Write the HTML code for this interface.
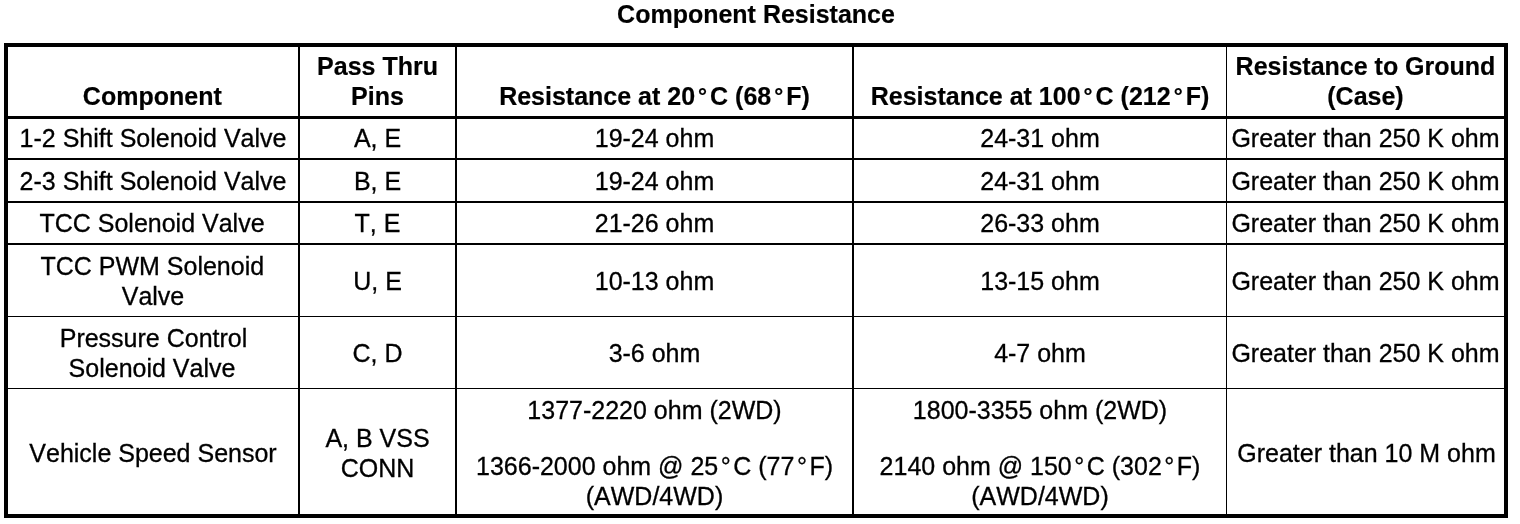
<!DOCTYPE html>
<html><head><meta charset="utf-8"><title>Component Resistance</title>
<style>
html,body{margin:0;padding:0;background:#fff;}
body{width:1520px;height:524px;position:relative;overflow:hidden;font-family:"Liberation Sans",sans-serif;color:#000;}
.l{position:absolute;background:#000;}
.t{font-kerning:none;-webkit-text-stroke:0.3px #000;position:absolute;text-align:center;white-space:nowrap;font-size:25px;line-height:30px;height:30px;}
.b{font-weight:bold;font-size:25px;-webkit-text-stroke:0.2px #000;}
.d{margin:0 2.5px 0 2.5px;}
.b .d{font-size:0.9em;margin:0 3px 0 3px;position:relative;top:-1.2px;}
</style></head><body>
<div class="t b" style="left:456px;width:600px;top:-1px;transform:scaleY(1.05);transform-origin:50% 24px">Component Resistance</div>
<div class="l" style="left:4px;top:43px;width:1504px;height:4px"></div>
<div class="l" style="left:4px;top:116px;width:1504px;height:3px"></div>
<div class="l" style="left:4px;top:158px;width:1504px;height:2px"></div>
<div class="l" style="left:4px;top:201px;width:1504px;height:2px"></div>
<div class="l" style="left:4px;top:243px;width:1504px;height:2px"></div>
<div class="l" style="left:4px;top:316px;width:1504px;height:1px"></div>
<div class="l" style="left:4px;top:388px;width:1504px;height:1px"></div>
<div class="l" style="left:4px;top:514px;width:1504px;height:4px"></div>
<div class="l" style="left:4px;top:43px;width:4px;height:475px"></div>
<div class="l" style="left:298px;top:43px;width:2px;height:475px"></div>
<div class="l" style="left:455px;top:43px;width:2px;height:475px"></div>
<div class="l" style="left:852px;top:43px;width:2px;height:475px"></div>
<div class="l" style="left:1226px;top:43px;width:1px;height:475px"></div>
<div class="l" style="left:1504px;top:43px;width:4px;height:475px"></div>
<div class="t b" style="left:7.3px;width:290px;top:81px">Component</div>
<div class="t b" style="left:300px;width:155px;top:51px">Pass Thru</div>
<div class="t b" style="left:300px;width:155px;top:81px">Pins</div>
<div class="t b" style="left:457px;width:395px;top:81px">Resistance at 20<span class="d">°</span>C (68<span class="d">°</span>F)</div>
<div class="t b" style="left:854px;width:372px;top:81px">Resistance at 100<span class="d">°</span>C (212<span class="d">°</span>F)</div>
<div class="t b" style="left:1227px;width:277px;top:51px">Resistance to Ground</div>
<div class="t b" style="left:1227px;width:277px;top:81px">(Case)</div>
<div class="t" style="left:8px;width:290px;top:123px">1-2 Shift Solenoid Valve</div>
<div class="t" style="left:300px;width:155px;top:123px">A, E</div>
<div class="t" style="left:457px;width:395px;top:123px">19-24 ohm</div>
<div class="t" style="left:854px;width:372px;top:123px">24-31 ohm</div>
<div class="t" style="left:1227px;width:277px;top:123px">Greater than 250 K ohm</div>
<div class="t" style="left:8px;width:290px;top:166px">2-3 Shift Solenoid Valve</div>
<div class="t" style="left:300px;width:155px;top:166px">B, E</div>
<div class="t" style="left:457px;width:395px;top:166px">19-24 ohm</div>
<div class="t" style="left:854px;width:372px;top:166px">24-31 ohm</div>
<div class="t" style="left:1227px;width:277px;top:166px">Greater than 250 K ohm</div>
<div class="t" style="left:7px;width:290px;top:208px">TCC Solenoid Valve</div>
<div class="t" style="left:300px;width:155px;top:208px">T, E</div>
<div class="t" style="left:457px;width:395px;top:208px">21-26 ohm</div>
<div class="t" style="left:854px;width:372px;top:208px">26-33 ohm</div>
<div class="t" style="left:1227px;width:277px;top:208px">Greater than 250 K ohm</div>
<div class="t" style="left:7.3px;width:290px;top:251px">TCC PWM Solenoid</div>
<div class="t" style="left:8px;width:290px;top:281px">Valve</div>
<div class="t" style="left:300px;width:155px;top:266px">U, E</div>
<div class="t" style="left:457px;width:395px;top:266px">10-13 ohm</div>
<div class="t" style="left:854px;width:372px;top:266px">13-15 ohm</div>
<div class="t" style="left:1227px;width:277px;top:266px">Greater than 250 K ohm</div>
<div class="t" style="left:8.5px;width:290px;top:323px">Pressure Control</div>
<div class="t" style="left:7px;width:290px;top:353px">Solenoid Valve</div>
<div class="t" style="left:300px;width:155px;top:338px">C, D</div>
<div class="t" style="left:457px;width:395px;top:338px">3-6 ohm</div>
<div class="t" style="left:854px;width:372px;top:338px">4-7 ohm</div>
<div class="t" style="left:1227px;width:277px;top:338px">Greater than 250 K ohm</div>
<div class="t" style="left:8px;width:290px;top:438px">Vehicle Speed Sensor</div>
<div class="t" style="left:300px;width:155px;top:423px">A, B VSS</div>
<div class="t" style="left:300px;width:155px;top:453px">CONN</div>
<div class="t" style="left:457px;width:395px;top:395px">1377-2220 ohm (2WD)</div>
<div class="t" style="left:457px;width:395px;top:451px">1366-2000 ohm @ 25<span class="d">°</span>C (77<span class="d">°</span>F)</div>
<div class="t" style="left:457px;width:395px;top:481px">(AWD/4WD)</div>
<div class="t" style="left:854px;width:372px;top:395px">1800-3355 ohm (2WD)</div>
<div class="t" style="left:854px;width:372px;top:451px">2140 ohm @ 150<span class="d">°</span>C (302<span class="d">°</span>F)</div>
<div class="t" style="left:854px;width:372px;top:481px">(AWD/4WD)</div>
<div class="t" style="left:1228px;width:277px;top:438px">Greater than 10 M ohm</div>
</body></html>
